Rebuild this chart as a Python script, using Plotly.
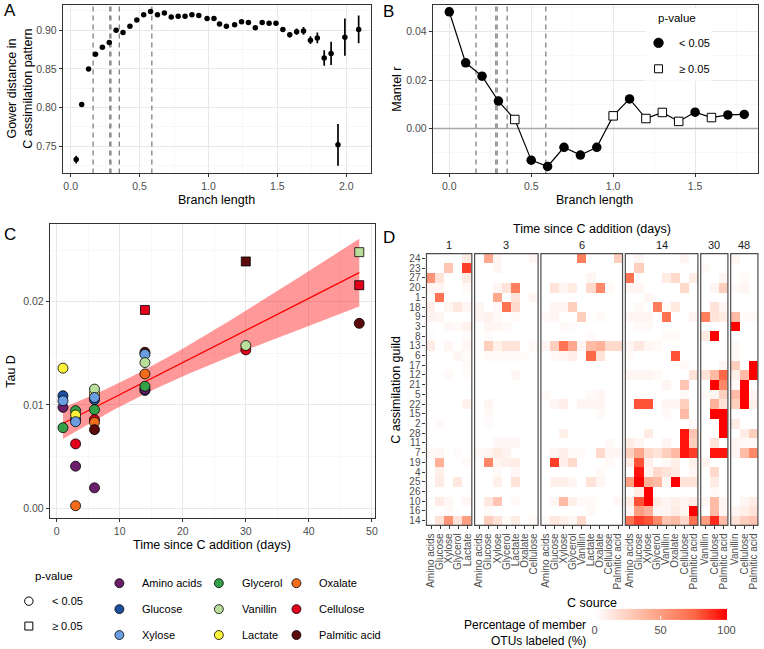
import numpy as np
import plotly.graph_objects as go

W, H = 764, 649
def fx(p): return p / W
def fy(p): return 1 - p / H

FONT = "Liberation Sans, Arial, sans-serif"
TICK_FONT = dict(family=FONT, size=10.5, color="#4d4d4d")
GRID = "#e8e8e8"; MINOR = "#f4f4f4"; BORDER = "#333333"

# ---------------- Panel A data ----------------
branch_a = [0.04, 0.08, 0.13, 0.18, 0.23, 0.28, 0.33, 0.38, 0.43, 0.48, 0.53, 0.58, 0.63, 0.68,
            0.73, 0.78, 0.83, 0.88, 0.93, 0.99, 1.04, 1.08, 1.13, 1.19, 1.24, 1.29, 1.34, 1.39,
            1.44, 1.49, 1.54, 1.59, 1.64, 1.69, 1.74, 1.79, 1.84, 1.89, 1.94, 1.99, 2.09]
gower = [0.733, 0.804, 0.850, 0.869, 0.878, 0.884, 0.900, 0.897, 0.905, 0.913, 0.920, 0.924,
         0.920, 0.922, 0.917, 0.918, 0.918, 0.920, 0.919, 0.915, 0.915, 0.908, 0.905, 0.907,
         0.911, 0.910, 0.903, 0.910, 0.909, 0.909, 0.901, 0.894, 0.898, 0.899, 0.887, 0.890,
         0.864, 0.870, 0.752, 0.891, 0.901]
gower_err = [0.005, 0.002, 0.002, 0.002, 0.002, 0.002, 0.002, 0.002, 0.002, 0.002, 0.002, 0.002,
             0.002, 0.002, 0.002, 0.002, 0.002, 0.002, 0.002, 0.002, 0.002, 0.002, 0.002, 0.002,
             0.002, 0.002, 0.002, 0.002, 0.002, 0.002, 0.002, 0.003, 0.004, 0.005, 0.005, 0.007,
             0.010, 0.015, 0.027, 0.024, 0.018]
cutoffs = [0.163, 0.284, 0.292, 0.353, 0.589]

# ---------------- Panel B data ----------------
branch_b = [0.0, 0.1, 0.2, 0.3, 0.4, 0.5, 0.6, 0.7, 0.8, 0.9, 1.0, 1.1, 1.2, 1.3, 1.4, 1.5, 1.6, 1.7, 1.8]
mantel_r = [0.0482, 0.0271, 0.0216, 0.0113, 0.0037, -0.0131, -0.0157, -0.0078, -0.0110, -0.0078,
            0.0052, 0.0122, 0.0041, 0.0066, 0.0029, 0.0067, 0.0045, 0.0056, 0.0058]
mantel_sig = [True, True, True, True, False, True, True, True, True, True,
              False, True, False, False, False, True, False, True, True]

# ---------------- Panel C data ----------------
c_day = [1, 1, 1, 1, 1,
         3, 3, 3, 3, 3, 3, 3,
         6, 6, 6, 6, 6, 6, 6, 6, 6,
         14, 14, 14, 14, 14, 14, 14, 14,
         30, 30, 30,
         48, 48, 48]
c_source = ["Lactate", "Glucose", "Amino acids", "Xylose", "Glycerol",
            "Glucose", "Glycerol", "Lactate", "Xylose", "Cellulose", "Amino acids", "Oxalate",
            "Lactate", "Vanillin", "Glucose", "Xylose", "Glycerol", "Cellulose", "Oxalate", "Palmitic acid", "Amino acids",
            "Cellulose", "Palmitic acid", "Xylose", "Vanillin", "Oxalate", "Glucose", "Amino acids", "Glycerol",
            "Palmitic acid", "Cellulose", "Vanillin",
            "Vanillin", "Cellulose", "Palmitic acid"]
c_tau = [0.01356, 0.01089, 0.00976, 0.01040, 0.00779,
         0.00860, 0.00944, 0.00902, 0.00837, 0.00622, 0.00406, 0.00023,
         0.01110, 0.01153, 0.01050, 0.01072, 0.00953, 0.00857, 0.00831, 0.00760, 0.00196,
         0.01920, 0.01510, 0.01490, 0.01410, 0.01300, 0.01140, 0.01150, 0.01180,
         0.02390, 0.01533, 0.01575,
         0.02480, 0.02160, 0.01790]
c_sig = [True] * 21 + [False] + [True] * 7 + [False, True, True] + [False, False, True]

sources = ["Amino acids", "Glucose", "Xylose", "Glycerol", "Vanillin", "Lactate",
           "Oxalate", "Cellulose", "Palmitic acid"]
source_colors = ["#6b1f6b", "#1c4fa0", "#6a9ee0", "#34a047", "#b9de9a", "#fff23c",
                 "#f26c1c", "#e3001b", "#5b0b0b"]
col_of = dict(zip(sources, source_colors))

# ---------------- Panel D data ----------------
guilds = ["24", "23", "27", "20", "1", "18", "9", "3", "8", "13", "6", "17", "12", "21",
          "5", "22", "15", "2", "28", "11", "7", "19", "4", "25", "26", "10", "16", "14"]
days = ["1", "3", "6", "14", "30", "48"]
src_day1 = ["Amino acids", "Glucose", "Xylose", "Glycerol", "Lactate"]
src_day3 = ["Amino acids", "Glucose", "Xylose", "Glycerol", "Lactate", "Oxalate", "Cellulose"]
src_day6 = ["Amino acids", "Glucose", "Xylose", "Glycerol", "Vanillin", "Lactate", "Oxalate", "Cellulose", "Palmitic acid"]
src_day14 = ["Amino acids", "Glucose", "Xylose", "Glycerol", "Vanillin", "Oxalate", "Cellulose", "Palmitic acid"]
src_day30 = ["Vanillin", "Cellulose", "Palmitic acid"]
src_day48 = ["Vanillin", "Cellulose", "Palmitic acid"]

heat_day1 = [
    [0, 0, 0, 0, 10], [0, 0, 30, 0, 85], [55, 15, 0, 0, 10], [5, 5, 0, 0, 3], [0, 70, 0, 0, 0],
    [8, 0, 5, 12, 5], [6, 5, 0, 0, 0], [0, 0, 4, 3, 7], [2, 0, 0, 0, 2], [10, 0, 5, 0, 5],
    [0, 0, 0, 5, 2], [0, 0, 0, 0, 3], [0, 0, 3, 0, 2], [0, 0, 0, 0, 0], [0, 0, 0, 0, 0],
    [0, 0, 0, 0, 7], [0, 0, 0, 0, 0], [0, 3, 0, 0, 0], [0, 0, 0, 0, 0], [0, 0, 0, 0, 0],
    [3, 4, 0, 2, 0], [0, 40, 0, 0, 3], [0, 8, 0, 0, 0], [0, 10, 0, 12, 0], [0, 0, 0, 0, 0],
    [0, 10, 4, 0, 4], [0, 0, 3, 0, 0], [0, 15, 55, 15, 50]]
heat_day3 = [
    [0, 45, 5, 0, 0, 0, 5], [0, 0, 5, 0, 0, 0, 0], [0, 0, 0, 0, 0, 0, 0], [0, 0, 5, 15, 65, 0, 0],
    [0, 0, 45, 0, 15, 0, 5], [5, 0, 3, 70, 20, 0, 0], [5, 7, 3, 0, 3, 0, 0], [0, 5, 5, 3, 0, 0, 0],
    [0, 2, 0, 0, 0, 0, 0], [0, 25, 8, 15, 15, 0, 3], [0, 3, 3, 3, 3, 2, 0], [0, 0, 0, 0, 0, 0, 0],
    [0, 0, 0, 0, 4, 0, 0], [0, 0, 0, 0, 0, 0, 0], [0, 0, 0, 0, 0, 0, 0], [0, 5, 0, 0, 0, 0, 0],
    [0, 3, 0, 0, 0, 0, 0], [0, 2, 0, 0, 0, 0, 0], [0, 0, 0, 0, 0, 0, 0], [0, 0, 4, 4, 4, 0, 0],
    [3, 5, 10, 6, 0, 0, 0], [0, 60, 5, 8, 10, 0, 0], [0, 0, 3, 0, 4, 0, 0], [0, 0, 8, 0, 15, 0, 0],
    [0, 0, 0, 0, 0, 0, 0], [0, 12, 30, 0, 3, 0, 0], [0, 3, 0, 0, 0, 0, 0], [0, 25, 15, 3, 10, 0, 3]]
heat_day6 = [
    [0, 0, 0, 0, 65, 0, 0, 0, 25], [0, 0, 0, 0, 0, 0, 0, 0, 0], [0, 0, 0, 0, 0, 5, 0, 0, 0],
    [0, 15, 5, 10, 0, 20, 60, 3, 0], [0, 0, 0, 0, 0, 0, 0, 0, 0], [0, 5, 5, 25, 0, 0, 0, 0, 0],
    [3, 5, 0, 0, 25, 0, 3, 0, 0], [0, 0, 3, 2, 0, 0, 0, 0, 0], [0, 0, 0, 0, 0, 2, 0, 0, 0],
    [5, 25, 70, 45, 5, 35, 40, 20, 20], [0, 3, 5, 8, 0, 75, 15, 0, 0], [0, 0, 0, 0, 0, 0, 0, 0, 0],
    [0, 0, 0, 0, 0, 0, 0, 0, 0], [0, 0, 0, 0, 0, 0, 0, 0, 0], [3, 0, 0, 0, 0, 3, 5, 0, 0],
    [0, 5, 8, 0, 5, 5, 5, 0, 0], [0, 0, 0, 0, 0, 0, 3, 0, 0], [0, 0, 0, 0, 0, 0, 0, 0, 0],
    [0, 0, 8, 0, 0, 0, 0, 0, 0], [0, 0, 0, 0, 0, 0, 0, 3, 0], [0, 5, 8, 3, 3, 0, 20, 5, 5],
    [0, 85, 8, 20, 0, 0, 0, 3, 0], [0, 0, 0, 0, 0, 0, 3, 0, 0], [0, 8, 8, 5, 0, 15, 5, 0, 0],
    [0, 0, 0, 0, 0, 0, 0, 0, 0], [0, 5, 35, 8, 3, 3, 0, 0, 4], [0, 0, 0, 0, 0, 3, 0, 0, 0],
    [3, 12, 8, 4, 20, 0, 0, 0, 0]]
heat_day14 = [
    [0, 5, 0, 0, 0, 0, 5, 0], [0, 25, 0, 0, 0, 0, 0, 0], [70, 0, 0, 0, 10, 20, 0, 10],
    [5, 5, 0, 0, 0, 0, 20, 0], [0, 0, 5, 0, 0, 0, 0, 0], [0, 3, 0, 65, 3, 12, 0, 0],
    [5, 5, 5, 0, 70, 0, 0, 5], [0, 3, 3, 0, 0, 0, 0, 0], [0, 0, 0, 0, 3, 3, 0, 0],
    [5, 12, 5, 3, 0, 0, 0, 0], [3, 0, 0, 0, 0, 80, 0, 0], [0, 0, 0, 0, 0, 0, 3, 0],
    [5, 5, 5, 3, 0, 0, 0, 15], [0, 0, 0, 0, 5, 0, 30, 0], [0, 0, 0, 0, 0, 0, 3, 0],
    [0, 80, 80, 0, 5, 5, 25, 0], [0, 0, 0, 0, 3, 0, 35, 0], [0, 0, 0, 0, 0, 0, 0, 3],
    [0, 0, 10, 0, 0, 0, 95, 30], [10, 5, 0, 0, 5, 0, 95, 25], [25, 45, 20, 15, 25, 35, 95, 85],
    [10, 80, 8, 0, 3, 8, 0, 8], [0, 95, 5, 20, 15, 10, 0, 5], [50, 100, 40, 35, 5, 100, 15, 15],
    [0, 10, 100, 0, 0, 0, 0, 0], [10, 80, 100, 10, 5, 8, 5, 10], [5, 50, 40, 5, 5, 10, 5, 100],
    [70, 85, 80, 60, 30, 35, 20, 70]]
heat_day30 = [
    [0, 0, 0], [3, 0, 0], [0, 0, 5], [0, 5, 25], [0, 0, 0], [0, 15, 5], [65, 15, 10], [0, 0, 0],
    [10, 100, 0], [0, 0, 0], [0, 0, 0], [0, 0, 5], [15, 35, 75], [0, 100, 60], [3, 5, 25],
    [0, 40, 15], [0, 100, 100], [0, 0, 100], [0, 0, 100], [0, 15, 0], [0, 95, 95], [5, 0, 0],
    [0, 20, 0], [0, 10, 0], [0, 3, 0], [5, 35, 5], [0, 35, 5], [50, 90, 35]]
heat_day48 = [
    [5, 0, 0], [0, 0, 0], [0, 3, 0], [3, 5, 0], [0, 0, 0], [0, 0, 0], [35, 3, 3], [100, 0, 0],
    [0, 0, 0], [3, 0, 0], [3, 0, 0], [25, 0, 100], [8, 35, 100], [3, 100, 0], [35, 100, 5],
    [25, 100, 8], [0, 0, 0], [10, 0, 0], [0, 10, 25], [5, 3, 3], [5, 35, 60], [0, 0, 0],
    [0, 0, 0], [0, 0, 0], [0, 0, 0], [0, 5, 10], [5, 8, 15], [15, 25, 30]]

facet_src = [src_day1, src_day3, src_day6, src_day14, src_day30, src_day48]
facet_heat = [heat_day1, heat_day3, heat_day6, heat_day14, heat_day30, heat_day48]

# ---------------- axis ranges (layout) ----------------
A_XR = [-0.058, 2.18]; A_YR = [0.715, 0.9325]
B_XR = [-0.101, 1.884]; B_YR = [-0.0186, 0.051]
C_XR = [-1.1, 50.5]; C_YR = [-0.001, 0.0275]

fig = go.Figure()

# vertical cutoff lines (A and B)
def vlines(yr):
    xx, yy = [], []
    for c in cutoffs:
        xx += [c, c, None]; yy += [yr[0], yr[1], None]
    return xx, yy
for ax, ay, yr in (("x", "y", A_YR), ("x2", "y2", B_YR)):
    vx, vy = vlines(yr)
    fig.add_trace(go.Scatter(x=vx, y=vy, mode="lines", xaxis=ax, yaxis=ay,
                             line=dict(color="#808080", width=1.3, dash="5px,4px"),
                             showlegend=False, hoverinfo="skip"))

# Panel A
fig.add_trace(go.Scatter(x=branch_a, y=gower, mode="markers", xaxis="x", yaxis="y",
                         marker=dict(color="black", size=5.5),
                         error_y=dict(type="data", array=gower_err, visible=True, color="black",
                                      thickness=1.7, width=0),
                         showlegend=False, hoverinfo="skip"))

# Panel B
fig.add_trace(go.Scatter(x=B_XR, y=[0, 0], mode="lines", xaxis="x2", yaxis="y2",
                         line=dict(color="#a8a8a8", width=1.4), showlegend=False, hoverinfo="skip"))
fig.add_trace(go.Scatter(x=branch_b, y=mantel_r, mode="lines", xaxis="x2", yaxis="y2",
                         line=dict(color="black", width=1.2), showlegend=False, hoverinfo="skip"))
bx_s = [b for b, s in zip(branch_b, mantel_sig) if s]
by_s = [r for r, s in zip(mantel_r, mantel_sig) if s]
bx_n = [b for b, s in zip(branch_b, mantel_sig) if not s]
by_n = [r for r, s in zip(mantel_r, mantel_sig) if not s]
fig.add_trace(go.Scatter(x=bx_s, y=by_s, mode="markers", xaxis="x2", yaxis="y2",
                         marker=dict(color="black", size=9.5, symbol="circle"),
                         showlegend=False, hoverinfo="skip"))
fig.add_trace(go.Scatter(x=bx_n, y=by_n, mode="markers", xaxis="x2", yaxis="y2",
                         marker=dict(color="white", size=8.5, symbol="square",
                                     line=dict(color="black", width=1)),
                         showlegend=False, hoverinfo="skip"))

# Panel C: linear fit with 95% CI
xs = np.array(c_day, dtype=float); ys = np.array(c_tau)
n = len(xs)
slope, intercept = np.polyfit(xs, ys, 1)
resid = ys - (intercept + slope * xs)
s = np.sqrt(np.sum(resid ** 2) / (n - 2))
xg = np.linspace(xs.min(), xs.max(), 100)
yhat = intercept + slope * xg
se = s * np.sqrt(1.0 / n + (xg - xs.mean()) ** 2 / np.sum((xs - xs.mean()) ** 2))
tcrit = 2.035
upper = yhat + tcrit * se; lower = yhat - tcrit * se
fig.add_trace(go.Scatter(x=np.concatenate([xg, xg[::-1]]), y=np.concatenate([upper, lower[::-1]]),
                         fill="toself", fillcolor="rgba(255,0,0,0.4)", line=dict(width=0),
                         mode="lines", xaxis="x3", yaxis="y3", showlegend=False, hoverinfo="skip"))
fig.add_trace(go.Scatter(x=xg, y=yhat, mode="lines", line=dict(color="#ff0000", width=1.3),
                         xaxis="x3", yaxis="y3", showlegend=False, hoverinfo="skip"))
fig.add_trace(go.Scatter(x=c_day, y=c_tau, mode="markers", xaxis="x3", yaxis="y3",
                         marker=dict(color=[col_of[sname] for sname in c_source],
                                     symbol=["circle" if sg else "square" for sg in c_sig],
                                     size=[10 if sg else 9 for sg in c_sig], opacity=1,
                                     line=dict(color="black", width=0.8)),
                         showlegend=False, hoverinfo="skip"))

# Panel D heatmaps
colorscale = [[0, "#ffffff"], [0.25, "#ffcfbe"], [0.5, "#ff9e81"], [0.75, "#ff6846"], [1, "#ff0000"]]
col_w = 9.12; gap = 2.8; left0 = 427.7
hm_top, hm_bot = 253.5, 526.0
facet_dom = []
cur = left0
for srcs in facet_src:
    w = col_w * len(srcs)
    facet_dom.append((cur, cur + w))
    cur += w + gap

for i, (srcs, z) in enumerate(zip(facet_src, facet_heat)):
    ax = "x%d" % (4 + i)
    fig.add_trace(go.Heatmap(z=z, x=srcs, y=guilds, xaxis=ax, yaxis="y4",
                             colorscale=colorscale, zmin=0, zmax=100, showscale=(i == 0),
                             colorbar=dict(orientation="h", x=fx(663), xanchor="center",
                                           y=fy(625), yanchor="middle", len=132, lenmode="pixels",
                                           thickness=11, thicknessmode="pixels", xpad=0, ypad=0,
                                           outlinewidth=0, tickvals=[0, 50, 100],
                                           ticks="inside", tickcolor="white", ticklen=3,
                                           tickfont=dict(family=FONT, size=11, color="#4d4d4d")),
                             hoverinfo="skip"))

axis_common = dict(showline=True, mirror=True, linecolor=BORDER, linewidth=1, ticks="outside",
                   ticklen=3, tickcolor=BORDER, tickwidth=1, showgrid=True, gridcolor=GRID,
                   gridwidth=1, zeroline=False, tickfont=TICK_FONT)
MINOR_STYLE = dict(showgrid=True, gridcolor=MINOR, gridwidth=0.7)

layout = dict(
    width=W, height=H, margin=dict(l=0, r=0, t=0, b=0),
    paper_bgcolor="white", plot_bgcolor="white", showlegend=False,
    font=dict(family=FONT),
    xaxis=dict(domain=[fx(62), fx(372)], range=A_XR, anchor="y",
               tickvals=[0, 0.5, 1, 1.5, 2], ticktext=["0.0", "0.5", "1.0", "1.5", "2.0"],
               minor=dict(tickvals=[0.25, 0.75, 1.25, 1.75], **MINOR_STYLE), **axis_common),
    yaxis=dict(domain=[fy(173), fy(4)], range=A_YR, anchor="x",
               tickvals=[0.75, 0.80, 0.85, 0.90], ticktext=["0.75", "0.80", "0.85", "0.90"],
               minor=dict(tickvals=[0.725, 0.775, 0.825, 0.875, 0.925], **MINOR_STYLE), **axis_common),
    xaxis2=dict(domain=[fx(434), fx(761)], range=B_XR, anchor="y2",
                tickvals=[0, 0.5, 1, 1.5], ticktext=["0.0", "0.5", "1.0", "1.5"],
                minor=dict(tickvals=[0.25, 0.75, 1.25, 1.75], **MINOR_STYLE), **axis_common),
    yaxis2=dict(domain=[fy(173), fy(4)], range=B_YR, anchor="x2",
                tickvals=[0, 0.02, 0.04], ticktext=["0.00", "0.02", "0.04"],
                minor=dict(tickvals=[-0.01, 0.01, 0.03, 0.05], **MINOR_STYLE), **axis_common),
    xaxis3=dict(domain=[fx(49), fx(376)], range=C_XR, anchor="y3",
                tickvals=[0, 10, 20, 30, 40, 50],
                minor=dict(tickvals=[5, 15, 25, 35, 45], **MINOR_STYLE), **axis_common),
    yaxis3=dict(domain=[fy(519), fy(224)], range=C_YR, anchor="x3",
                tickvals=[0, 0.01, 0.02], ticktext=["0.00", "0.01", "0.02"],
                minor=dict(tickvals=[0.005, 0.015, 0.025], **MINOR_STYLE), **axis_common),
    yaxis4=dict(domain=[fy(hm_bot), fy(hm_top)], anchor="x4", type="category",
                categoryorder="array", categoryarray=guilds, range=[len(guilds) - 0.5, -0.5],
                tickmode="array", tickvals=guilds, ticktext=guilds,
                showline=False, showgrid=False, zeroline=False, ticks="outside", ticklen=3,
                tickcolor=BORDER, tickfont=dict(family=FONT, size=10, color="#4d4d4d")),
)
for i, srcs in enumerate(facet_src):
    d0, d1 = facet_dom[i]
    layout["xaxis%d" % (4 + i)] = dict(domain=[fx(d0), fx(d1)], anchor="y4", type="category",
                                       tickmode="array", tickvals=srcs, ticktext=srcs,
                                       range=[-0.5, len(srcs) - 0.5],
                                       tickangle=-90, showline=False, showgrid=False, zeroline=False,
                                       ticks="outside", ticklen=3, tickcolor=BORDER,
                                       tickfont=dict(family=FONT, size=10, color="#4d4d4d"))

shapes = []
for d0, d1 in facet_dom:
    shapes.append(dict(type="rect", xref="paper", yref="paper", x0=fx(d0), x1=fx(d1),
                       y0=fy(hm_bot), y1=fy(hm_top), line=dict(color="#4d4d4d", width=1.2),
                       fillcolor="rgba(0,0,0,0)", layer="above"))

def marker_shape(kind, cx, cy, d, fill, lw=0.9):
    return dict(type=kind, xref="paper", yref="paper", x0=fx(cx - d / 2), x1=fx(cx + d / 2),
                y0=fy(cy + d / 2), y1=fy(cy - d / 2),
                fillcolor=fill, line=dict(color="black", width=lw), layer="above")

# Panel B legend box
shapes.append(dict(type="rect", xref="paper", yref="paper", x0=fx(648), x1=fx(714), y0=fy(80), y1=fy(7),
                   fillcolor="white", line=dict(width=0), layer="above"))
shapes.append(marker_shape("circle", 661, 42, 9.5, "black"))
shapes.append(marker_shape("rect", 661, 68, 8, "white", 1))
# Panel C legends
shapes.append(marker_shape("circle", 28, 602, 8.5, "white", 1))
shapes.append(marker_shape("rect", 28, 627, 8, "white", 1))
leg_cols_x = [119, 219, 297]
leg_rows_y = [584, 610, 636]
for k, (sname, scol) in enumerate(zip(sources, source_colors)):
    shapes.append(marker_shape("circle", leg_cols_x[k // 3], leg_rows_y[k % 3], 9, scol, 0.8))

def ann(text, x, y, size=11, color="#000000", xanchor="center", yanchor="middle", angle=0):
    return dict(text=text, x=fx(x), y=fy(y), xref="paper", yref="paper", showarrow=False,
                font=dict(family=FONT, size=size, color=color), xanchor=xanchor,
                yanchor=yanchor, textangle=angle)

anns = [
    ann("A", 9, 10, 17), ann("B", 390, 11, 17), ann("C", 9, 234, 17), ann("D", 390, 237, 17),
    ann("Branch length", 217, 200, 12.5), ann("Branch length", 597, 200, 12.5),
    ann("Gower distance in<br>C assimilation pattern", 19, 88, 12.5, angle=-90),
    ann("Mantel r", 398, 88, 12.5, angle=-90),
    ann("Tau D", 10, 371, 12.5, angle=-90),
    ann("Time since C addition (days)", 212, 546, 12.5),
    ann("Time since C addition (days)", 594, 229, 12.5),
    ann("C assimilation guild", 397, 390, 12.5, angle=-90),
    ann("C source", 594, 604, 12.5),
    ann("Percentage of member", 590, 626, 12, xanchor="right"),
    ann("OTUs labeled (%)", 590, 642, 12, xanchor="right"),
    ann("p-value", 658, 17, 11.5, xanchor="left"),
    ann("< 0.05", 680, 42, 11, xanchor="left"),
    ann("≥ 0.05", 680, 68, 11, xanchor="left"),
    ann("p-value", 32, 577, 11.5, xanchor="left"),
    ann("< 0.05", 49, 602, 11, xanchor="left"),
    ann("≥ 0.05", 49, 627, 11, xanchor="left"),
]
for (d0, d1), dname in zip(facet_dom, days):
    anns.append(ann(dname, (d0 + d1) / 2, 245, 11, color="#1a1a1a"))
for k, sname in enumerate(sources):
    anns.append(ann(sname, leg_cols_x[k // 3] + 21, leg_rows_y[k % 3], 11, xanchor="left"))

layout["shapes"] = shapes
layout["annotations"] = anns
fig.update_layout(**layout)
fig.write_html("out.html", config={"displayModeBar": False, "staticPlot": True},
               post_script="document.body.style.margin='0px';document.body.style.padding='0px';")
